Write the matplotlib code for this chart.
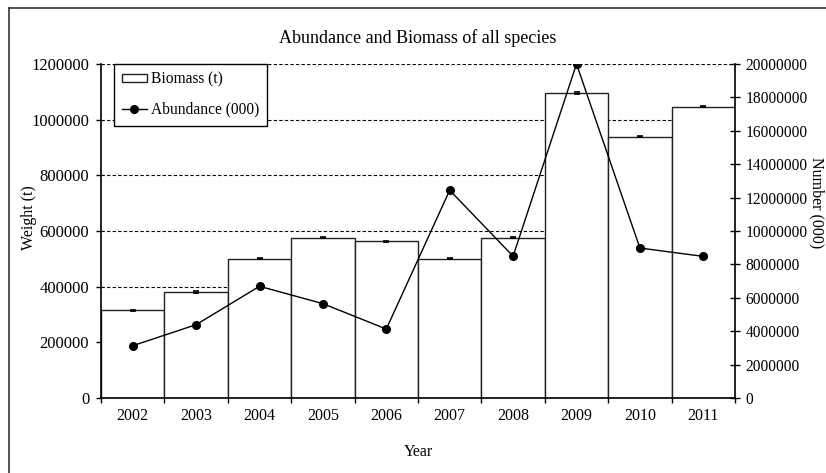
import matplotlib
matplotlib.use("Agg")
import matplotlib.pyplot as plt
from matplotlib.lines import Line2D
import numpy as np

plt.rcParams['font.family'] = ['Liberation Serif', 'DejaVu Serif']

years = ['2002', '2003', '2004', '2005', '2006', '2007', '2008', '2009', '2010', '2011']
biomass = [315000, 381000, 500000, 576000, 563000, 500000, 576000, 1096000, 938000, 1046000]
biomass_err = [2000, 2000, 2000, 1000, 2000, 1500, 2000, 2000, 2000, 1500]
abundance = [3130000, 4390000, 6690000, 5650000, 4130000, 12440000, 8490000, 20000000, 8980000, 8480000]
left_ticks = [0, 200000, 400000, 600000, 800000, 1000000, 1200000]
right_ticks = [0, 2000000, 4000000, 6000000, 8000000, 10000000, 12000000, 14000000, 16000000, 18000000, 20000000]

W, H = 826, 473
fig = plt.figure(figsize=(W / 100, H / 100), dpi=100)
ax = fig.add_axes([101 / W, 1 - 398 / H, (735 - 101) / W, (398 - 64) / H])
ax2 = ax.twinx()

x = np.arange(len(years))
FS = 11.5

# gridlines
ax.set_axisbelow(True)
ax.yaxis.grid(True, linestyle=(0, (3, 2)), color='black', linewidth=0.8)

bars = ax.bar(x, biomass, width=1.0, color='white', edgecolor='#222222', linewidth=1.0,
              label='Biomass (t)', zorder=2)
ax.errorbar(x, biomass, yerr=biomass_err, fmt='none', ecolor='black', capsize=2.5,
            capthick=1.2, elinewidth=1.0, zorder=3)

line, = ax2.plot(x, abundance, color='black', linewidth=1.0, marker='o', markersize=5.5,
                 label='Abundance (000)', zorder=4)

ax.set_xlim(-0.5, len(years) - 0.5)
ax.set_ylim(0, 1200000)
ax2.set_ylim(0, 20000000)

ax.set_yticks(left_ticks)
ax.set_yticklabels([str(v) for v in left_ticks], fontsize=12)
ax2.set_yticks(right_ticks)
ax2.set_yticklabels([str(v) for v in right_ticks], fontsize=11.2)

ax.set_xticks(np.arange(-0.5, len(years), 1.0))
ax.set_xticklabels([])
ax.set_xticks(x, minor=True)
ax.set_xticklabels(years, minor=True, fontsize=FS)
ax.tick_params(axis='x', which='major', direction='out', length=3.5, width=1.0)
ax.tick_params(axis='x', which='minor', length=0, pad=7)
ax.tick_params(axis='y', direction='out', length=3.5, width=1.0, pad=5)
ax2.tick_params(axis='y', direction='inout', length=7, width=1.0, pad=4)

for a in (ax, ax2):
    a.spines['top'].set_visible(False)
    for s in ('left', 'right', 'bottom'):
        a.spines[s].set_linewidth(1.2)
ax.spines['right'].set_visible(False)
ax2.spines['left'].set_visible(False)
ax2.spines['bottom'].set_visible(False)

ax.set_xlabel('Year', fontsize=FS)
ax.xaxis.set_label_coords(0.5, -0.138)
ax.set_ylabel('Weight (t)', fontsize=FS, va='center')
ax.yaxis.set_label_coords(-0.1136, 0.539)
ax2.set_ylabel('Number (000)', fontsize=FS, rotation=270, va='center')
ax2.yaxis.set_label_coords(1.129, 0.584)

fig.text(418 / W, 1 - 38 / H, 'Abundance and Biomass of all species', ha='center', va='center',
         fontsize=13)

leg = ax2.legend([bars, line], ['Biomass (t)', 'Abundance (000)'], loc='upper left',
                 bbox_to_anchor=(13 / 634, 1.0), borderaxespad=0, fancybox=False,
                 edgecolor='black', framealpha=1, fontsize=11.2, handlelength=1.6,
                 handleheight=0.45, handletextpad=0.25, labelspacing=0.9,
                 borderpad=0.5)
leg.get_frame().set_linewidth(1.0)

# outer frame (extends beyond the image at right and bottom)
fig.add_artist(Line2D([9 / W, 1.01], [1 - 8 / H, 1 - 8 / H], color='#333333', linewidth=1.2,
                      transform=fig.transFigure))
fig.add_artist(Line2D([9 / W, 9 / W], [1 - 8 / H, -0.01], color='#333333', linewidth=1.2,
                      transform=fig.transFigure))

fig.savefig('out.png', dpi=100)
